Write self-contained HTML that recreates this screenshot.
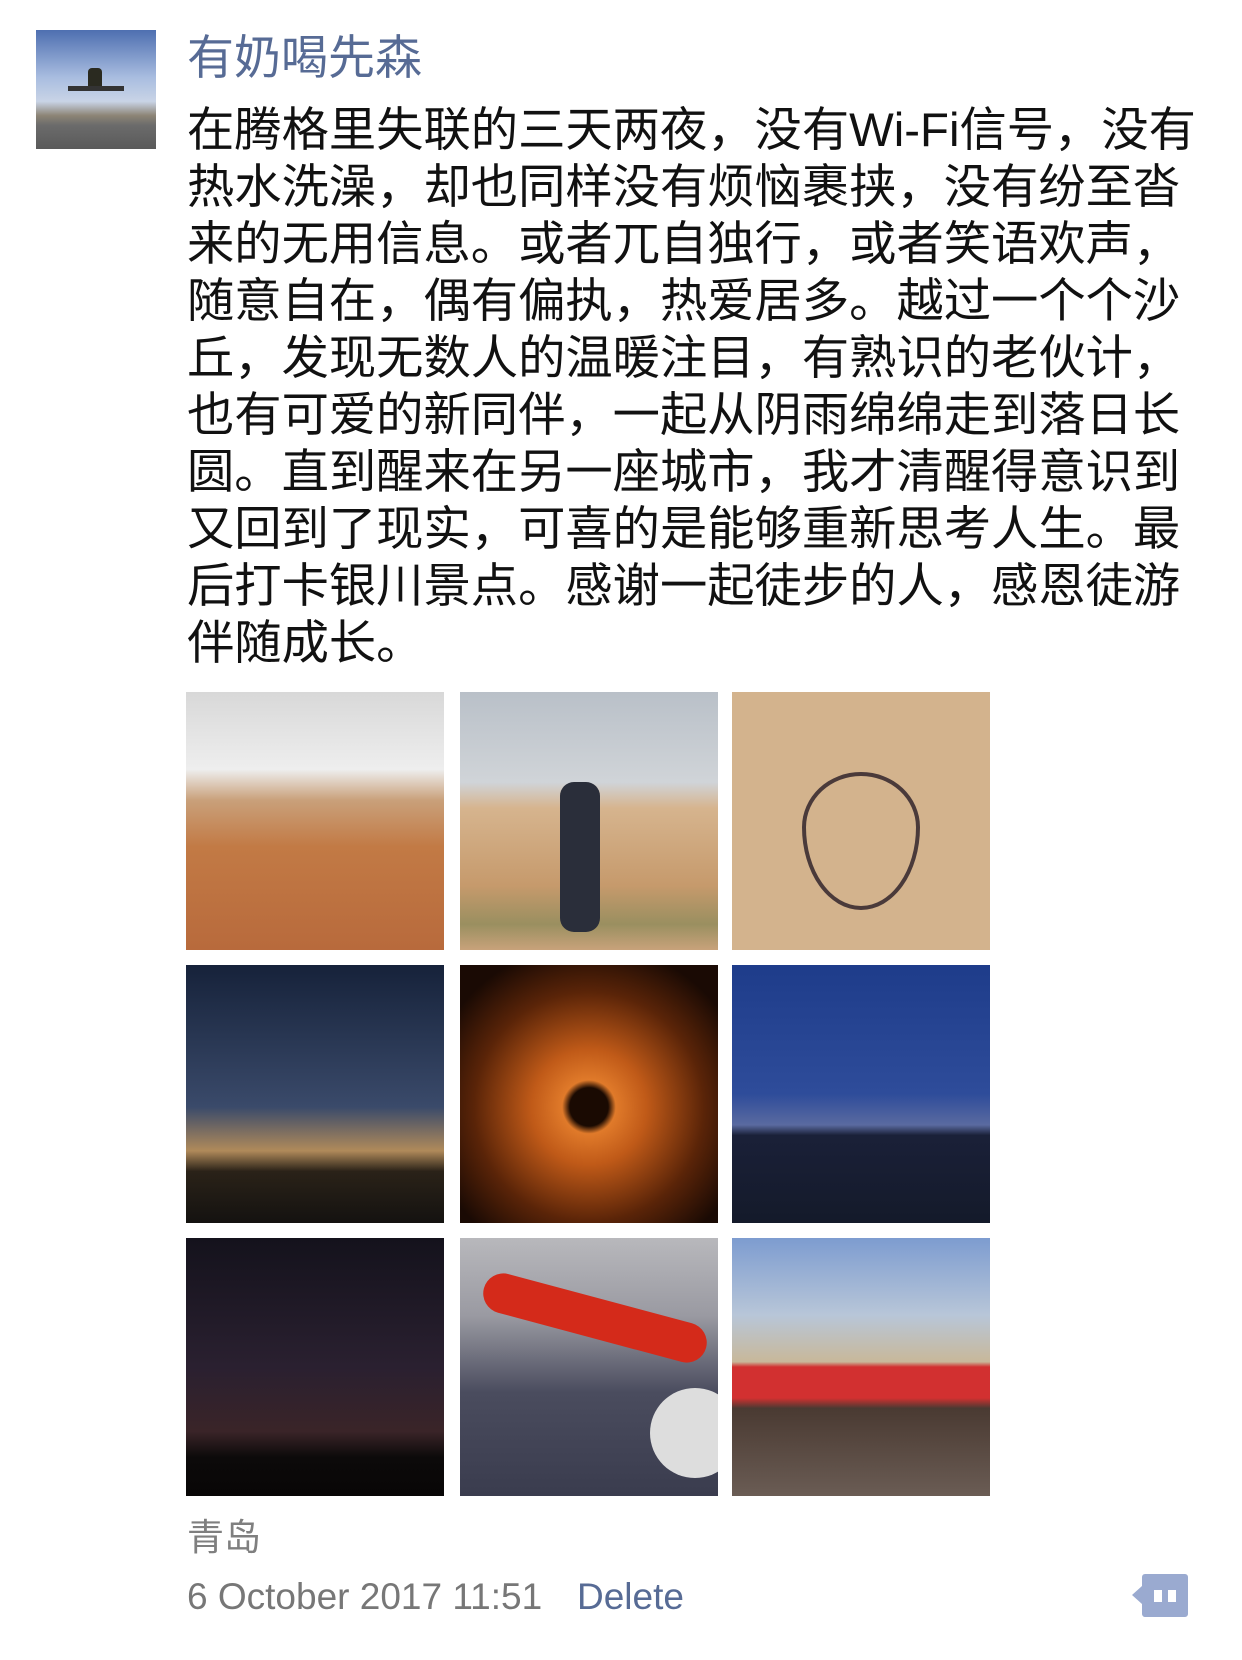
<!DOCTYPE html>
<html><head><meta charset="utf-8">
<style>
body{margin:0;width:1242px;height:1660px;background:#fff;position:relative;overflow:hidden;font-family:"Liberation Sans","Noto Sans CJK SC",sans-serif}
.a{position:absolute}
.ph{position:absolute;width:258px;height:258px;overflow:hidden}
</style></head><body>
<div class="a" style="left:36px;top:30px;width:120px;height:119px;background:linear-gradient(#4e6fb0 0%,#a9bde0 40%,#c9d4e6 60%,#8c8475 72%,#6b6b6b 80%,#5a5a5a 100%)">
 <div class="a" style="left:52px;top:38px;width:14px;height:22px;background:#2a2a20;border-radius:4px"></div>
 <div class="a" style="left:32px;top:56px;width:56px;height:5px;background:#333"></div>
</div>
<div class="a" style="left:187px;top:28px;font-size:47px;color:#576b95;line-height:60px">有奶喝先森</div>
<div class="a" style="left:187px;top:102px;font-size:47.3px;line-height:57px;color:#111;white-space:nowrap">在腾格里失联的三天两夜，没有Wi-Fi信号，没有<br>热水洗澡，却也同样没有烦恼裹挟，没有纷至沓<br>来的无用信息。或者兀自独行，或者笑语欢声，<br>随意自在，偶有偏执，热爱居多。越过一个个沙<br>丘，发现无数人的温暖注目，有熟识的老伙计，<br>也有可爱的新同伴，一起从阴雨绵绵走到落日长<br>圆。直到醒来在另一座城市，我才清醒得意识到<br>又回到了现实，可喜的是能够重新思考人生。最<br>后打卡银川景点。感谢一起徒步的人，感恩徒游<br>伴随成长。</div>

<div class="ph" style="left:186px;top:692px;background:linear-gradient(#d8d8d8 0%,#eeeeee 30%,#c9a07a 42%,#c27a45 60%,#b86a3c 100%)"></div>
<div class="ph" style="left:460px;top:692px;background:linear-gradient(#b9c0c8 0%,#d0d4d8 35%,#d6b48e 45%,#c69a6c 75%,#9a8f60 90%,#c8a27a 100%)"><div class="a" style="left:100px;top:90px;width:40px;height:150px;background:#2a2e3a;border-radius:14px"></div></div>
<div class="ph" style="left:732px;top:692px;background:#d3b38d"><div class="a" style="left:70px;top:80px;width:110px;height:130px;border:4px solid #4a3a3a;border-radius:50% 50% 50% 50%/40% 40% 60% 60%"></div></div>
<div class="ph" style="left:186px;top:965px;background:linear-gradient(#16223a 0%,#3a4a6a 55%,#b08a5a 72%,#2a2218 80%,#141210 100%)"></div>
<div class="ph" style="left:460px;top:965px;background:radial-gradient(circle at 50% 55%,#1a0a02 10%,#e07a2a 14%,#c05a18 30%,#5a2408 60%,#1a0a04 85%)"></div>
<div class="ph" style="left:732px;top:965px;background:linear-gradient(#1e3c8a 0%,#2e4c9a 50%,#5a6aa0 62%,#1a2038 66%,#141a2a 100%)"></div>
<div class="ph" style="left:186px;top:1238px;background:linear-gradient(#14121c 0%,#2a2030 50%,#3a2428 75%,#0c0a0a 85%,#080606 100%)"></div>
<div class="ph" style="left:460px;top:1238px;background:linear-gradient(#b8b8bc 0%,#9a9aa2 30%,#4a4c5e 60%,#3a3c4e 100%)"><div class="a" style="left:20px;top:60px;width:230px;height:40px;background:#d42a1a;transform:rotate(15deg);border-radius:20px"></div><div class="a" style="left:190px;top:150px;width:90px;height:90px;background:#ddd;border-radius:50%"></div></div>
<div class="ph" style="left:732px;top:1238px;background:linear-gradient(#7d9cd0 0%,#b8c6d8 30%,#c8b89a 48%,#d23030 50%,#d23030 62%,#4a3a32 66%,#6a5c54 100%)"></div>

<div class="a" style="left:187px;top:1515px;font-size:37px;line-height:46px;color:#7f7f7f">青岛</div>
<div class="a" style="left:187px;top:1574px;font-size:37px;line-height:46px;color:#777">6 October 2017 11:51</div>
<div class="a" style="left:577px;top:1574px;font-size:37px;line-height:46px;color:#576b95">Delete</div>
<div class="a" style="left:1142px;top:1574px;width:46px;height:43px;background:#9aaad0;border-radius:3px">
 <div class="a" style="left:-10px;top:12px;width:0;height:0;border-top:9px solid transparent;border-bottom:9px solid transparent;border-right:10px solid #9aaad0"></div>
 <div class="a" style="left:12px;top:16px;width:8px;height:12px;background:#fff"></div>
 <div class="a" style="left:26px;top:16px;width:8px;height:12px;background:#fff"></div>
</div>
</body></html>
